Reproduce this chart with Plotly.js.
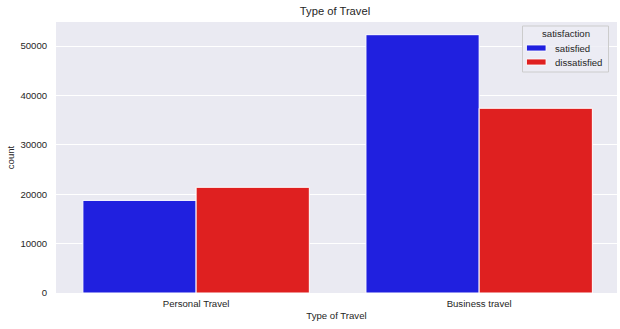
<!DOCTYPE html>
<html>
<head>
<meta charset="utf-8">
<script src="https://cdn.plot.ly/plotly-3.0.1.min.js"></script>
<style>html,body{margin:0;padding:0;background:#fff;}#chart{width:620px;height:329px;}</style>
</head>
<body>
<div id="chart"></div>
<script>
const categories = ["Personal Travel", "Business travel"];
const satisfiedCounts = [18750, 52300];
const dissatisfiedCounts = [21400, 37400];
const seriesNames = ["satisfied", "dissatisfied"];
const seriesColors = ["#2020df", "#df2020"];
const legendTitle = "satisfaction";
const yTicks = [0, 10000, 20000, 30000, 40000, 50000];

const txt = "#262626";
const FF = "Liberation Sans, Arial, sans-serif";
const fs = 9.6;

const W = 620, H = 329;
const M = {l: 56, r: 3, t: 22, b: 36};
const PW = W - M.l - M.r, PH = H - M.t - M.b;
const px = v => (v - M.l) / PW;
const py = v => (H - M.b - v) / PH;

const traces = [
  {type: "bar", name: seriesNames[0], x: categories, y: satisfiedCounts,
   marker: {color: seriesColors[0], line: {color: "#ffffff", width: 1}}, hoverinfo: "none"},
  {type: "bar", name: seriesNames[1], x: categories, y: dissatisfiedCounts,
   marker: {color: seriesColors[1], line: {color: "#ffffff", width: 1}}, hoverinfo: "none"}
];

// manual legend (matplotlib-like)
const shapes = [
  {type: "rect", xref: "paper", yref: "paper", x0: px(522.5), x1: px(608.5), y0: py(72), y1: py(26),
   fillcolor: "rgba(236,236,244,0.8)", line: {color: "#cccccc", width: 1}, layer: "above"}
];
const annotations = [
  {xref: "paper", yref: "paper", x: px(565.5), y: py(34), text: legendTitle, showarrow: false,
   xanchor: "center", yanchor: "middle", font: {family: FF, size: fs, color: txt}}
];
seriesNames.forEach((n, i) => {
  const cy = 48 + i * 14;
  shapes.push({type: "rect", xref: "paper", yref: "paper", x0: px(526.5), x1: px(546), y0: py(cy + 3), y1: py(cy - 3),
    fillcolor: seriesColors[i], line: {color: "#ffffff", width: 0.8}, layer: "above"});
  annotations.push({xref: "paper", yref: "paper", x: px(552.5), y: py(cy), text: n, showarrow: false,
    xanchor: "left", yanchor: "middle", font: {family: FF, size: fs, color: txt}});
});

const layout = {
  width: W, height: H,
  margin: M,
  paper_bgcolor: "#ffffff",
  plot_bgcolor: "#eaeaf2",
  font: {family: FF, size: fs, color: txt},
  title: {text: "Type of Travel", font: {family: FF, size: 11.2, color: txt},
          x: px(335), xref: "paper", xanchor: "center", y: 1 - 11 / H, yref: "container", yanchor: "middle"},
  barmode: "group",
  bargap: 0.2,
  bargroupgap: 0,
  showlegend: false,
  shapes: shapes,
  annotations: annotations,
  xaxis: {
    type: "category", range: [-0.495, 1.487],
    showgrid: false, zeroline: false, showline: false,
    ticks: "outside", ticklen: 1, tickcolor: "rgba(0,0,0,0)",
    tickfont: {family: FF, size: fs, color: txt},
    title: {text: "Type of Travel", font: {family: FF, size: fs, color: txt}, standoff: 4},
    fixedrange: true
  },
  yaxis: {
    range: [0, 54870], tickvals: yTicks, ticktext: yTicks.map(String),
    showgrid: true, gridcolor: "#ffffff", gridwidth: 1, zeroline: false, showline: false,
    ticks: "outside", ticklen: 6, tickcolor: "rgba(0,0,0,0)",
    tickfont: {family: FF, size: fs, color: txt},
    title: {text: "count", font: {family: FF, size: fs, color: txt}, standoff: 4},
    fixedrange: true
  }
};

Plotly.newPlot("chart", traces, layout, {displayModeBar: false, staticPlot: true});
</script>
</body>
</html>
